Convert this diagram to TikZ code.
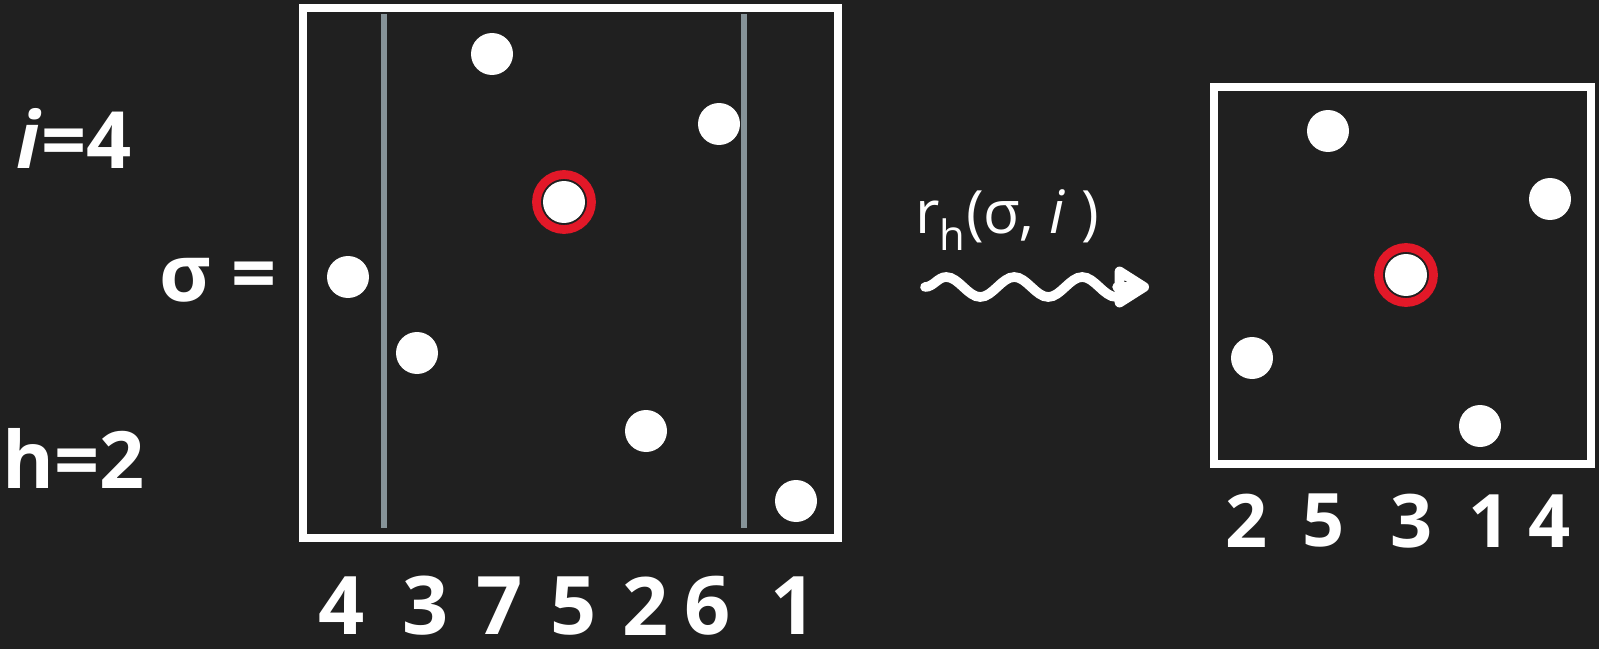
\documentclass[tikz,border=0pt]{standalone}
\usepackage{fontspec}
\setmainfont{Open Sans}
\usetikzlibrary{arrows.meta,decorations.pathmorphing}
\definecolor{board}{RGB}{32,32,32}
\definecolor{chalkred}{RGB}{226,24,40}
\definecolor{chalkgray}{RGB}{134,147,152}
\begin{document}
\begin{tikzpicture}[x=0.02cm,y=-0.02cm,
  dot/.style={circle, fill=white, inner sep=0pt, minimum size=0.84cm},
  ring/.style={circle, draw=chalkred, line width=5pt, inner sep=0pt, minimum size=1.1cm},
  frame/.style={draw=white, line width=4.5pt, inner sep=0pt},
  bar/.style={draw=chalkgray, line width=3pt},
  digit/.style={text=white, inner sep=0pt, font=\fontsize{46}{54}\selectfont\bfseries},
  smalldigit/.style={text=white, inner sep=0pt, font=\fontsize{42}{50}\selectfont\bfseries},
  chalk/.style={text=white, inner sep=0pt, font=\fontsize{45}{52}\selectfont\bfseries},
  wave/.style={white, line width=5.5pt, line cap=round, decorate,
    decoration={snake, amplitude=0.2cm, segment length=1.36cm, post length=0.15cm}}]
\fill[board] (0,0) rectangle (1599,649);
\useasboundingbox (0,0) rectangle (1599,649);

% left labels
\node[chalk] (ilab) at (74,138) {\textit{i}=4};
\node[chalk] (hlab) at (74,458) {h=2};
\node[chalk] (sigma) at (218,280) {σ =};

% the permutation sigma
\node[frame, minimum width=10.7cm, minimum height=10.6cm] (big) at (570.5,273) {};
\draw[bar] (384,14) -- (384,528);
\draw[bar] (744,14) -- (744,528);
\node[dot] (p1) at (492,54) {};
\node[dot] (p2) at (719,124) {};
\node[dot] (p3) at (564,202) {};
\node[ring] (r3) at (p3) {};
\node[dot] (p4) at (348,277) {};
\node[dot] (p5) at (417,353) {};
\node[dot] (p6) at (646,431) {};
\node[dot] (p7) at (796,501) {};

\node[digit] (n1) at (342,606) {4};
\node[digit] (n2) at (426,606) {3};
\node[digit] (n3) at (500,606) {7};
\node[digit] (n4) at (574,606) {5};
\node[digit] (n5) at (646,606) {2};
\node[digit] (n6) at (708,606) {6};
\node[digit] (n7) at (794,606) {1};

% the map
\node[text=white, inner sep=0pt, font=\fontsize{34}{40}\selectfont] (map) at (1007,220) {r\textsubscript{h}(σ, \textit{i} )};
\coordinate (wa) at (925,287);
\coordinate (wb) at (1149,287);
\draw[wave, -{Triangle[open, length=0.78cm, width=0.92cm, round]}] (wa) -- (wb);

% the result
\node[frame, minimum width=7.54cm, minimum height=7.54cm] (small) at (1402.5,275.5) {};
\node[dot] (q1) at (1328,131) {};
\node[dot] (q2) at (1550,199) {};
\node[dot] (q3) at (1406,275) {};
\node[ring] (s3) at (q3) {};
\node[dot] (q4) at (1252,358) {};
\node[dot] (q5) at (1480,426) {};

\node[smalldigit] (m1) at (1247,521) {2};
\node[smalldigit] (m2) at (1324,521) {5};
\node[smalldigit] (m3) at (1412,521) {3};
\node[smalldigit] (m4) at (1490,521) {1};
\node[smalldigit] (m5) at (1550,521) {4};
\end{tikzpicture}
\end{document}
